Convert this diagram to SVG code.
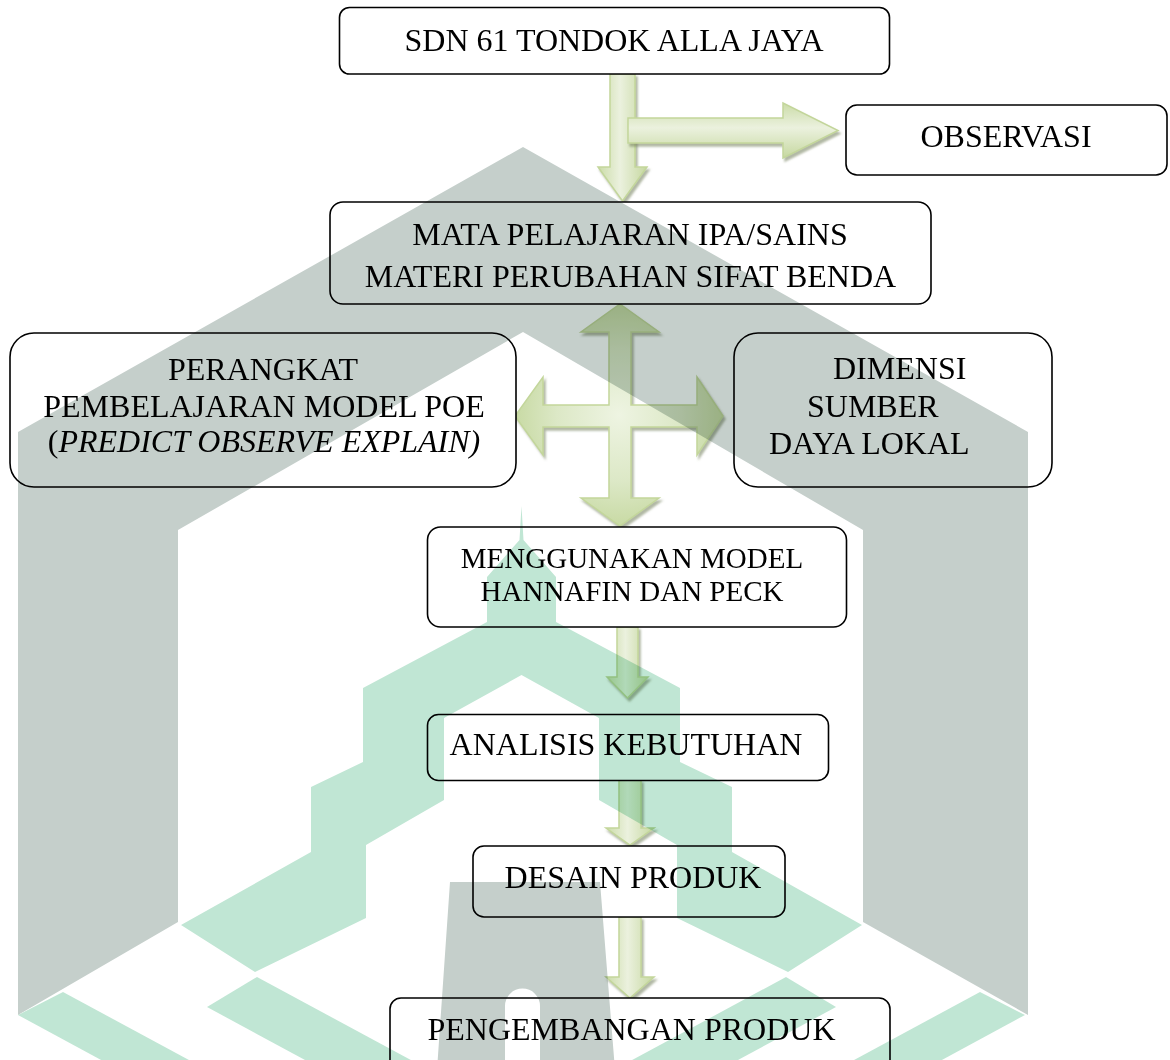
<svg xmlns="http://www.w3.org/2000/svg" width="1170" height="1060" viewBox="0 0 1170 1060">
<defs>
<style>
.box{fill:#ffffff;stroke:#000000;stroke-width:1.6}
.t{font-family:"Liberation Serif","Times New Roman",serif;font-size:32px;fill:#000000;text-anchor:middle}
.ts{font-size:29px}
.l{text-anchor:start}
.arr{stroke:#c3d69b;stroke-width:1.5;filter:url(#sh)}
.grey{fill:#c5cfcb}
.green{fill:#c0e6d4}
</style>
<linearGradient id="gV" x1="0" y1="0" x2="1" y2="0">
<stop offset="0" stop-color="#cbdca8"/>
<stop offset="0.45" stop-color="#ebf1de"/>
<stop offset="1" stop-color="#c6d8a0"/>
</linearGradient>
<linearGradient id="gH" x1="0" y1="0" x2="0" y2="1">
<stop offset="0" stop-color="#cbdca8"/>
<stop offset="0.45" stop-color="#ebf1de"/>
<stop offset="1" stop-color="#c6d8a0"/>
</linearGradient>
<radialGradient id="gR" cx="0.5" cy="0.5" r="0.5">
<stop offset="0" stop-color="#eef4e2"/>
<stop offset="0.6" stop-color="#dce8c6"/>
<stop offset="1" stop-color="#c8daa4"/>
</radialGradient>
<filter id="sh" x="-20%" y="-20%" width="150%" height="150%">
<feDropShadow dx="2" dy="3" stdDeviation="0.8" flood-color="#6f7d5a" flood-opacity="0.55"/>
</filter>
</defs>
<rect x="0" y="0" width="1170" height="1060" fill="#ffffff"/>

<g id="connectors">
<path class="arr" fill="url(#gV)" d="M610,74 H635 V167 H647 L622.5,201 L598,167 H610 Z"/>
<path class="arr" fill="url(#gH)" d="M628,118 H783 V103 L838,130.5 L783,158 V143 H628 Z"/>
<path class="arr" fill="url(#gR)" d="M620,304 L659,332 L631,332 L631,405 L697,405 L697,377 L723,416 L697,455 L697,427 L631,427 L631,498 L659,498 L620,526 L581,498 L609,498 L609,427 L543,427 L543,455 L515,416 L543,377 L543,405 L609,405 L609,332 L581,332 Z"/>
<path class="arr" fill="url(#gV)" d="M617,627 H638 V677 H648 L627.5,698 L607,677 H617 Z"/>
<path class="arr" fill="url(#gV)" d="M619,780 H641 V828 H654 L630,845 L606,828 H619 Z"/>
<path class="arr" fill="url(#gV)" d="M619,917 H641 V977 H654 L630,998 L606,977 H619 Z"/>
</g>

<g id="sdn">
<rect class="box" x="339.5" y="7.5" width="550" height="66.5" rx="10"/>
<text class="t" x="614" y="51">SDN 61 TONDOK ALLA JAYA</text>
</g>
<g id="observasi">
<rect class="box" x="846" y="105" width="321" height="70" rx="11"/>
<text class="t" x="1006" y="147">OBSERVASI</text>
</g>
<g id="mata-pelajaran">
<rect class="box" x="330" y="202" width="601" height="102" rx="13"/>
<text class="t" x="630" y="245">MATA PELAJARAN IPA/SAINS</text>
<text class="t" x="630.5" y="287">MATERI PERUBAHAN SIFAT BENDA</text>
</g>
<g id="perangkat">
<rect class="box" x="10" y="333" width="506" height="154" rx="24"/>
<text class="t" x="263" y="380">PERANGKAT</text>
<text class="t" x="264" y="417">PEMBELAJARAN MODEL POE</text>
<text class="t" x="264" y="452">(<tspan font-style="italic">PREDICT OBSERVE EXPLAIN)</tspan></text>
</g>
<g id="dimensi">
<rect class="box" x="734" y="333" width="318" height="154" rx="24"/>
<text class="t l" x="833" y="379">DIMENSI</text>
<text class="t l" x="807" y="417">SUMBER</text>
<text class="t l" x="769" y="454">DAYA LOKAL</text>
</g>
<g id="menggunakan">
<rect class="box" x="427.5" y="527" width="419" height="100" rx="13"/>
<text class="t ts" x="632" y="568">MENGGUNAKAN MODEL</text>
<text class="t ts" x="632" y="601">HANNAFIN DAN PECK</text>
</g>
<g id="analisis">
<rect class="box" x="427.5" y="714.5" width="401" height="66" rx="11"/>
<text class="t" x="626" y="755">ANALISIS KEBUTUHAN</text>
</g>
<g id="desain">
<rect class="box" x="473" y="846" width="312" height="71" rx="11"/>
<text class="t" x="633" y="888">DESAIN PRODUK</text>
</g>
<g id="pengembangan">
<rect class="box" x="390" y="998" width="500" height="90" rx="11"/>
<text class="t" x="631.5" y="1040">PENGEMBANGAN PRODUK</text>
</g>

<g id="watermark" style="mix-blend-mode:multiply">
<polygon class="grey" points="523,147 1028,432 1028,1015 863,922 863,530 523,332 178,530 178,922 18,1015 18,432"/>
<path class="grey" fill-rule="evenodd" d="M450,882 L600,882 L615,1070 L437,1070 Z M505,1070 V1006 A17.5,17.5 0 0 1 540,1006 V1070 Z"/>
<polygon class="green" points="521.5,506 523.5,540 556,577 556,622 680,688 680,762 732,787 732,852 862,925 788,972 677,918 677,845 599,800 599,718 521.5,675 444,718 444,800 366,845 366,918 255,972 181,925 311,852 311,787 363,762 363,688 487,622 487,577 519.5,540"/>
<polygon class="green" points="207,1007 257,977 485,1100 379,1100"/>
<polygon class="green" points="836,1007 786,977 558,1100 664,1100"/>
<polygon class="green" points="18,1015 63,992 263,1100 175,1100"/>
<polygon class="green" points="1025,1015 980,992 780,1100 868,1100"/>
</g>
</svg>
